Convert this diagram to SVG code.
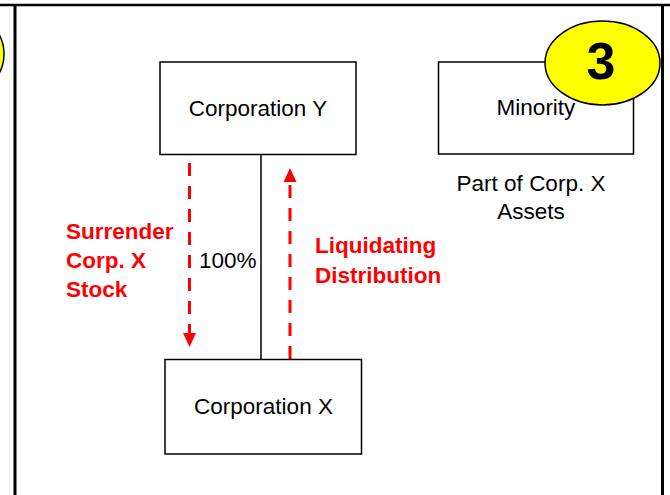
<svg xmlns="http://www.w3.org/2000/svg" width="670" height="495" viewBox="0 0 670 495">
<style>
.box{fill:#fff;stroke:#000;stroke-width:1.5}
.lbl{font-family:"Liberation Sans",Arial,sans-serif;font-size:22.5px;fill:#000}
.red{font-family:"Liberation Sans",Arial,sans-serif;font-size:22.5px;font-weight:bold;fill:#ff0000}
.dash{stroke:#ff0000;stroke-width:3;stroke-dasharray:13 10;fill:none}
.badge{fill:#ffff00;stroke:#000;stroke-width:1.5}
</style>
<defs>
<marker id="ah" markerUnits="userSpaceOnUse" markerWidth="14" markerHeight="13" refX="0" refY="6.5" orient="auto" viewBox="0 0 14 13">
<path d="M0,0 L14,6.5 L0,13 z" fill="#ff0000"/>
</marker>
</defs>
<rect x="0" y="0" width="670" height="495" fill="#fff"/>
<g id="frame">
<ellipse cx="-40" cy="54" rx="44" ry="42" class="badge"/>
<line x1="0" y1="5" x2="670" y2="5" stroke="#000" stroke-width="2.5"/>
<line x1="15" y1="5" x2="15" y2="495" stroke="#000" stroke-width="3"/>
<line x1="662.5" y1="5" x2="662.5" y2="495" stroke="#000" stroke-width="3"/>
</g>
<g id="connectors">
<line x1="261" y1="154.5" x2="261" y2="359.5" stroke="#000" stroke-width="1.5"/>
<line x1="189.5" y1="163" x2="189.5" y2="333" class="dash" marker-end="url(#ah)"/>
<line x1="290" y1="359" x2="290" y2="182" class="dash" marker-end="url(#ah)"/>
<text class="red" x="66" y="239">Surrender</text>
<text class="red" x="66" y="268">Corp. X</text>
<text class="red" x="66" y="297">Stock</text>
<text class="lbl" x="199" y="268">100%</text>
<text class="red" x="315" y="253">Liquidating</text>
<text class="red" x="315" y="283">Distribution</text>
</g>
<g id="corpY">
<rect class="box" x="160" y="62" width="196" height="92.5"/>
<text class="lbl" x="258" y="116" text-anchor="middle">Corporation Y</text>
</g>
<g id="corpX">
<rect class="box" x="165" y="359.5" width="196.5" height="94.5"/>
<text class="lbl" x="263.5" y="414" text-anchor="middle">Corporation X</text>
</g>
<g id="minority">
<rect class="box" x="438.5" y="62" width="195" height="92"/>
<text class="lbl" x="536" y="115" text-anchor="middle">Minority</text>
<text class="lbl" x="531" y="191" text-anchor="middle">Part of Corp. X</text>
<text class="lbl" x="531" y="218.5" text-anchor="middle">Assets</text>
</g>
<g id="badge3">
<ellipse cx="602.5" cy="63" rx="57.5" ry="42" class="badge"/>
<text x="601" y="79" text-anchor="middle" font-family="Liberation Sans,Arial,sans-serif" font-weight="bold" font-size="52" fill="#000">3</text>
</g>
</svg>
